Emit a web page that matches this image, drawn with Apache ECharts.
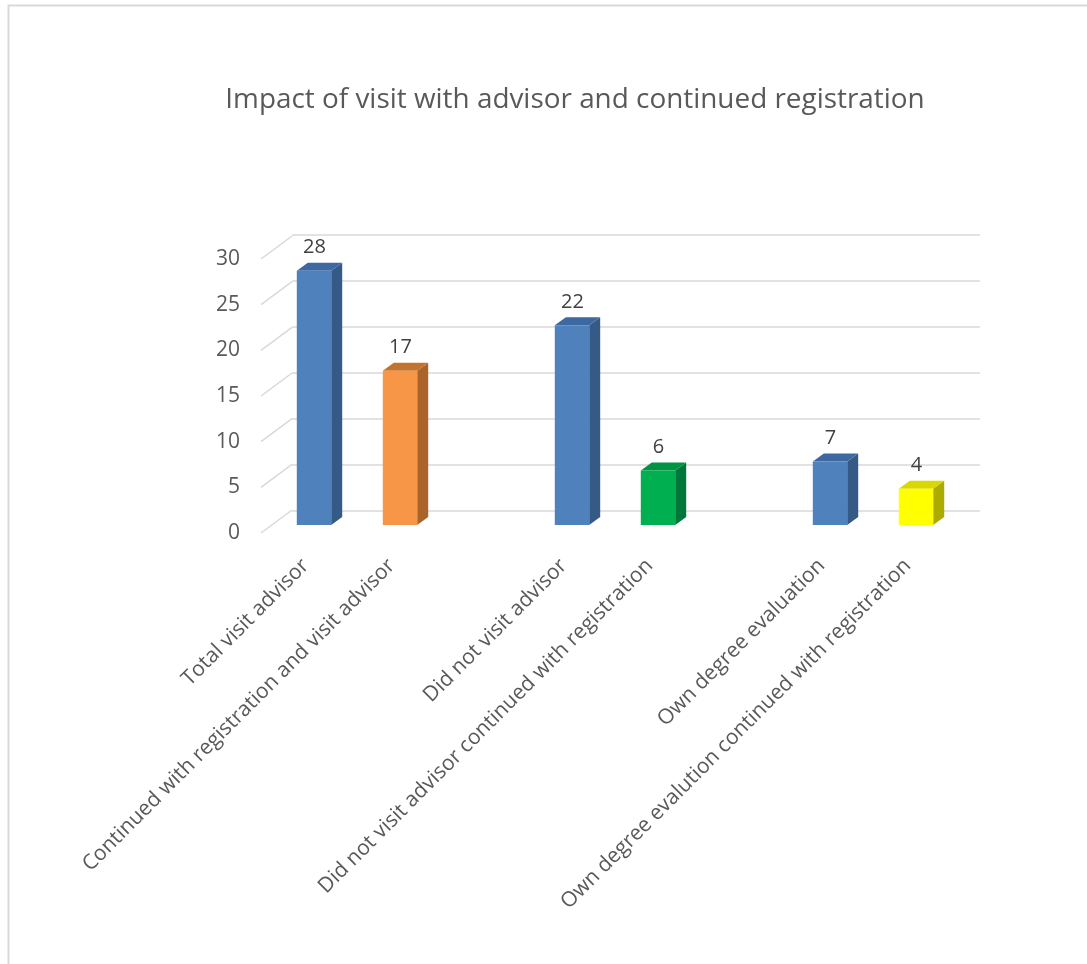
<!DOCTYPE html>
<html>
<head>
<meta charset="utf-8">
<script src="https://cdn.jsdelivr.net/npm/echarts@6/dist/echarts.min.js"></script>
<style>
html,body{margin:0;padding:0;background:#fff;}
#c{width:1087px;height:964px;}
</style>
</head>
<body>
<div id="c"></div>
<script>
const titleText = 'Impact of visit with advisor and continued registration';
const categories = [
  'Total visit advisor',
  'Continued with registration and visit advisor',
  '',
  'Did not visit advisor',
  'Did not visit advisor continued with registration',
  '',
  'Own degree evaluation',
  'Own degree evalution continued with registration'
];
const values = [28, 17, null, 22, 6, null, 7, 4];
const yTicks = [0, 5, 10, 15, 20, 25, 30];

// style palette per category slot (front, side, top)
const palette = [
  ['#4f81bd', '#355a86', '#3e68a2'],
  ['#f79646', '#aa6429', '#c4732f'],
  null,
  ['#4f81bd', '#355a86', '#3e68a2'],
  ['#00b050', '#00773a', '#009442'],
  null,
  ['#4f81bd', '#355a86', '#3e68a2'],
  ['#ffff00', '#abab00', '#d8d800']
];

const FONT = '"Open Sans", "DejaVu Sans", sans-serif';
const DEPTH_X = 11, DEPTH_Y = -8;      // bar depth
const WALL_X = 31, WALL_Y = -23;       // side wall depth

const chart = echarts.init(document.getElementById('c'), null, {renderer: 'canvas'});

const barData = values.map((v, i) => [i, v]).filter(d => d[1] != null);

chart.setOption({
  animation: false,
  backgroundColor: '#ffffff',
  title: {
    text: titleText,
    left: 570,
    top: 81,
    textAlign: 'center',
    textStyle: {fontFamily: FONT, fontSize: 27.9, fontWeight: 'normal', color: '#595959'}
  },
  graphic: [{
    type: 'rect',
    left: 6, top: 3,
    shape: {width: 1200, height: 1100},
    style: {fill: 'none', stroke: '#d9d9d9', lineWidth: 2},
    silent: true, z: -10
  }],
  grid: [
    {left: 292, top: 235, width: 688, height: 276},   // back wall
    {left: 261, top: 259, width: 688, height: 274},   // front plane (labels)
    {left: 271, top: 252.6, width: 688, height: 272.4} // bars front face
  ],
  xAxis: [
    {gridIndex: 0, type: 'value', min: 0, max: 1, show: false},
    {gridIndex: 1, type: 'value', min: 0, max: 1, show: false},
    {
      gridIndex: 2, type: 'category', data: categories,
      axisLine: {show: false}, axisTick: {show: false},
      axisLabel: {
        interval: 0, rotate: 45, margin: 29,
        padding: [0, 12, 0, 0],
        fontFamily: FONT, fontSize: 21, color: '#595959'
      }
    }
  ],
  yAxis: [
    {
      gridIndex: 0, type: 'value', min: 0, max: 30, interval: 5,
      axisLine: {show: false}, axisTick: {show: false}, axisLabel: {show: false},
      splitLine: {show: true, lineStyle: {color: '#d9d9d9', width: 1.5}}
    },
    {
      gridIndex: 1, type: 'value', min: 0, max: 30, interval: 5,
      axisLine: {show: false}, axisTick: {show: false}, splitLine: {show: false},
      axisLabel: {margin: 21, fontFamily: FONT, fontSize: 21, color: '#595959'}
    },
    {
      gridIndex: 2, type: 'value', min: 0, max: 30, interval: 5, show: false
    }
  ],
  series: [
    {
      type: 'custom',
      xAxisIndex: 1, yAxisIndex: 1,
      data: yTicks.map(v => [0, v]),
      silent: true,
      renderItem: function (params, api) {
        const p = api.coord([0, api.value(1)]);
        return {
          type: 'line',
          shape: {x1: p[0], y1: p[1], x2: p[0] + WALL_X, y2: p[1] + WALL_Y},
          style: {stroke: '#d9d9d9', lineWidth: 1.5}
        };
      }
    },
    {
      type: 'custom',
      xAxisIndex: 2, yAxisIndex: 2,
      data: barData,
      renderItem: function (params, api) {
        const idx = api.value(0);
        const val = api.value(1);
        const base = api.coord([idx, 0]);
        const top = api.coord([idx, val]);
        const w = api.size([1, 0])[0] * 0.4;
        const x0 = base[0] - w / 2, x1 = base[0] + w / 2;
        const c = palette[idx];
        return {
          type: 'group',
          children: [
            {
              type: 'polygon',
              shape: {points: [[x1, top[1]], [x1 + DEPTH_X, top[1] + DEPTH_Y], [x1 + DEPTH_X, base[1] + DEPTH_Y], [x1, base[1]]]},
              style: {fill: c[1]}
            },
            {
              type: 'polygon',
              shape: {points: [[x0, top[1]], [x0 + DEPTH_X, top[1] + DEPTH_Y], [x1 + DEPTH_X, top[1] + DEPTH_Y], [x1, top[1]]]},
              style: {fill: c[2]}
            },
            {
              type: 'rect',
              shape: {x: x0, y: top[1], width: w, height: base[1] - top[1]},
              style: {fill: c[0]}
            },
            {
              type: 'text',
              x: base[0] + DEPTH_X / 2 - 5,
              y: top[1] + DEPTH_Y - 15,
              style: {
                text: String(val), fontFamily: FONT, fontSize: 20, fill: '#404040',
                align: 'center', verticalAlign: 'middle'
              }
            }
          ]
        };
      }
    }
  ]
});
</script>
</body>
</html>
